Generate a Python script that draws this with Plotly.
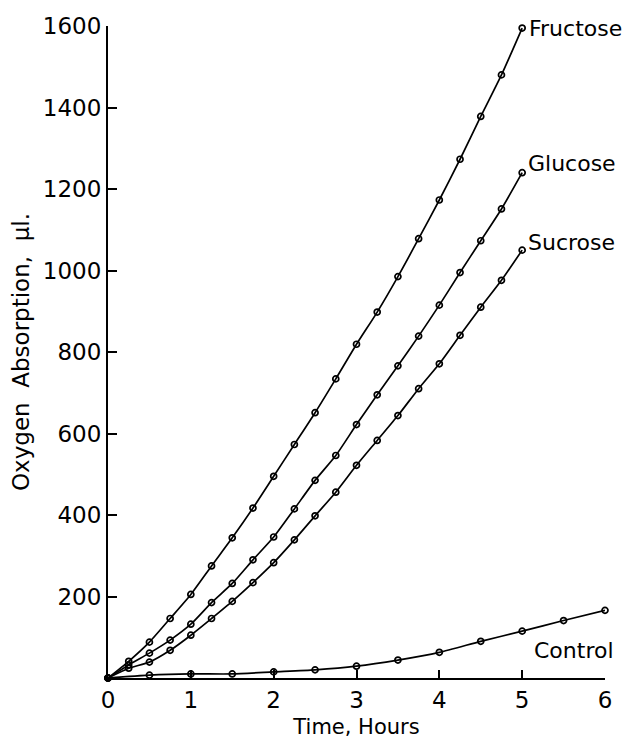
import plotly.graph_objects as go

hours_sugar = [0, 0.25, 0.5, 0.75, 1, 1.25, 1.5, 1.75, 2, 2.25, 2.5, 2.75, 3,
               3.25, 3.5, 3.75, 4, 4.25, 4.5, 4.75, 5]
fructose = [0, 41, 88, 146, 205, 275, 344, 417, 495, 573, 651, 734, 819,
            898, 985, 1078, 1173, 1273, 1378, 1480, 1595]
glucose = [0, 32, 61, 93, 132, 185, 232, 290, 346, 415, 485, 546, 622,
           695, 766, 839, 915, 995, 1073, 1151, 1240]
sucrose = [0, 24, 39, 68, 105, 146, 188, 234, 283, 339, 398, 456, 522,
           583, 644, 710, 771, 841, 910, 976, 1050]
hours_control = [0, 0.5, 1, 1.5, 2, 2.5, 3, 3.5, 4, 4.5, 5, 5.5, 6]
control = [0, 7, 10, 10, 15, 20, 29, 44, 63, 90, 115, 141, 166]

x_ticks = [0, 1, 2, 3, 4, 5, 6]
y_ticks = [200, 400, 600, 800, 1000, 1200, 1400, 1600]

FONT = "DejaVu Sans"

fig = go.Figure()
for xs, ys in [(hours_sugar, fructose), (hours_sugar, glucose),
               (hours_sugar, sucrose), (hours_control, control)]:
    fig.add_trace(go.Scatter(
        x=xs, y=ys, mode="lines+markers",
        line=dict(color="black", width=1.7, shape="spline", smoothing=0.6),
        marker=dict(symbol="circle-open", size=6, color="black",
                    line=dict(width=1.7, color="black")),
        cliponaxis=False, showlegend=False))

labels = [("Fructose", 5, fructose[-1], 5, 0),
          ("Glucose", 5, 1262, 4, 0),
          ("Sucrose", 5, 1068, 4, 0)]
for txt, x, y, xs, ys in labels:
    fig.add_annotation(x=x, y=y, text=txt, showarrow=False, xanchor="left",
                       yanchor="middle", xshift=xs, yshift=ys,
                       font=dict(family=FONT, size=22, color="black"))
fig.add_annotation(x=5.62, y=68, text="Control", showarrow=False,
                   xanchor="center", yanchor="middle",
                   font=dict(family=FONT, size=22, color="black"))

fig.update_xaxes(range=[0, 6], tickvals=x_ticks, ticks="inside", ticklen=8,
                 tickwidth=1.7, tickcolor="black", showline=True,
                 linecolor="black", linewidth=2, showgrid=False, zeroline=False,
                 automargin=False,
                 tickfont=dict(family=FONT, size=23, color="black"),
                 title=dict(text="Time, Hours", standoff=8,
                            font=dict(family=FONT, size=21, color="black")))
fig.update_yaxes(range=[0, 1600], tickvals=y_ticks, ticks="inside", ticklen=9,
                 tickwidth=1.7, tickcolor="black", showline=True,
                 linecolor="black", linewidth=2, showgrid=False, zeroline=False,
                 automargin=False,
                 tickfont=dict(family=FONT, size=23, color="black"),
                 title=dict(text="Oxygen  Absorption,  µl.", standoff=10,
                            font=dict(family=FONT, size=23, color="black")))

fig.update_layout(width=633, height=744, plot_bgcolor="white",
                  paper_bgcolor="white",
                  margin=dict(l=100, r=36, t=18, b=74))
fig.write_html("out.html")
